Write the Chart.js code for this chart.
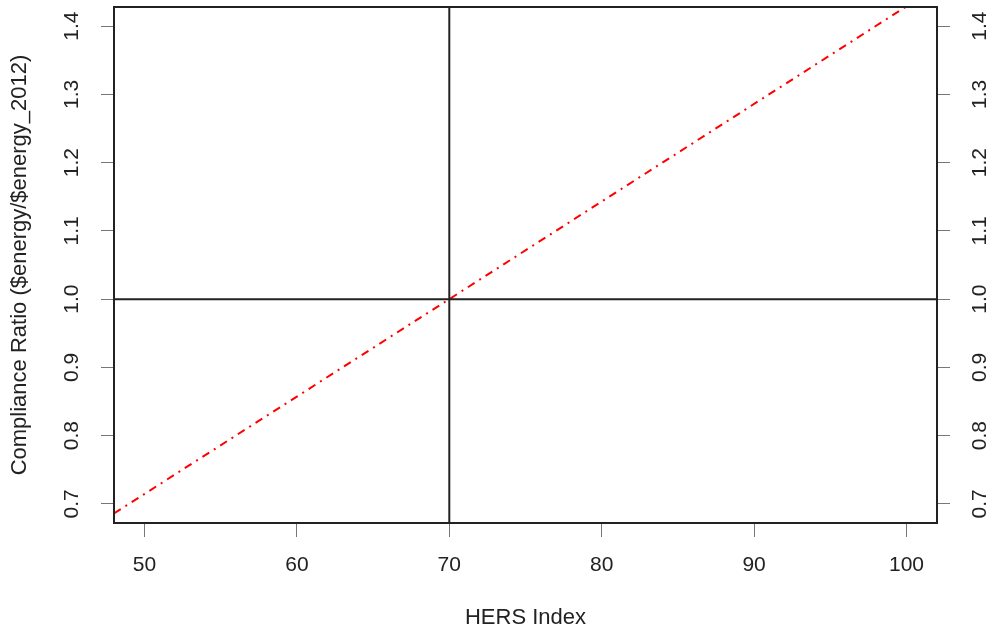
<!DOCTYPE html>
<html>
<head>
<meta charset="utf-8">
<script src="https://cdn.jsdelivr.net/npm/chart.js@4/dist/chart.umd.min.js"></script>
<style>
  html, body { margin: 0; padding: 0; background: #fff; }
  #wrap { width: 997px; height: 634px; }
</style>
</head>
<body>
<div id="wrap"><canvas id="LineChart1" width="997" height="634"></canvas></div>
<script>
// data
const hersIndex = [48, 70, 100];
const complianceRatio = [0.686, 1.0, 1.429];

// reference lines
const refHers = 70;
const refRatio = 1.0;

// axis ranges and ticks
const xRange = [48, 102];
const yRange = [0.672, 1.428];
const xTicks = [50, 60, 70, 80, 90, 100];
const yTicks = [0.7, 0.8, 0.9, 1.0, 1.1, 1.2, 1.3, 1.4];

const FONT = '"Liberation Sans", Arial, Helvetica, sans-serif';
const TEXT = '#222';

// plot box + rotated y tick labels, R style
const boxPlugin = {
    id: 'boxPlugin',
    afterDatasetsDraw(chart) {
        const a = chart.chartArea;
        const ctx = chart.ctx;
        ctx.save();
        ctx.strokeStyle = '#222';
        ctx.lineWidth = 2;
        ctx.strokeRect(a.left, a.top, a.right - a.left, a.bottom - a.top);
        ctx.restore();
    },
    afterDraw(chart) {
        const ctx = chart.ctx;
        ctx.save();
        ctx.fillStyle = TEXT;
        ctx.font = '21px ' + FONT;
        ctx.textAlign = 'center';
        ctx.textBaseline = 'middle';
        [['y', chart.scales.y.left + 72], ['y2', chart.scales.y2.left + 43]].forEach(([id, x]) => {
            const s = chart.scales[id];
            yTicks.forEach(v => {
                const py = s.getPixelForValue(v);
                ctx.save();
                ctx.translate(x, py);
                ctx.rotate(-Math.PI / 2);
                ctx.fillText(v.toFixed(1), 0, 0);
                ctx.restore();
            });
        });
        ctx.restore();
    }
};

const ctx1 = document.getElementById('LineChart1');
const LineChart1 = new Chart(ctx1, {
    type: 'line',
    data: {
        datasets: [{
            data: [{x: refHers, y: yRange[0]}, {x: refHers, y: yRange[1]}],
            borderColor: '#222',
            borderWidth: 2,
            pointRadius: 0
        }, {
            data: [{x: xRange[0], y: refRatio}, {x: xRange[1], y: refRatio}],
            borderColor: '#222',
            borderWidth: 2,
            pointRadius: 0
        }, {
            data: hersIndex.map((h, i) => ({x: h, y: complianceRatio[i]})),
            borderColor: '#ff0000',
            borderWidth: 2,
            borderDash: [8, 5.5, 2, 5.5],
            pointRadius: 0
        }]
    },
    options: {
        responsive: false,
        animation: false,
        layout: { padding: { top: 7, left: 0, right: 0, bottom: 0 } },
        plugins: {
            legend: { display: false },
            tooltip: { enabled: false }
        },
        scales: {
            x: {
                type: 'linear',
                min: xRange[0],
                max: xRange[1],
                afterBuildTicks: s => { s.ticks = xTicks.map(v => ({value: v})); },
                afterFit: s => { s.height = 111; },
                grid: { drawOnChartArea: false, tickLength: 14, color: '#777', lineWidth: 1 },
                border: { display: false },
                ticks: { color: TEXT, font: { family: FONT, size: 21 }, padding: 16, maxRotation: 0 },
                title: {
                    display: true,
                    text: 'HERS Index',
                    color: TEXT,
                    font: { family: FONT, size: 22 },
                    padding: { top: 0, bottom: 3 }
                }
            },
            y: {
                type: 'linear',
                position: 'left',
                min: yRange[0],
                max: yRange[1],
                afterBuildTicks: s => { s.ticks = yTicks.map(v => ({value: v})); },
                afterFit: s => { s.width = 114; },
                grid: { drawOnChartArea: false, tickLength: 13, color: '#777', lineWidth: 1 },
                border: { display: false },
                ticks: { display: false },
                title: {
                    display: true,
                    text: 'Compliance Ratio ($energy/$energy_2012)',
                    color: TEXT,
                    font: { family: FONT, size: 22 },
                    padding: { top: 7, bottom: 0 }
                }
            },
            y2: {
                type: 'linear',
                position: 'right',
                min: yRange[0],
                max: yRange[1],
                afterBuildTicks: s => { s.ticks = yTicks.map(v => ({value: v})); },
                afterFit: s => { s.width = 60; },
                grid: { drawOnChartArea: false, tickLength: 13, color: '#777', lineWidth: 1 },
                border: { display: false },
                ticks: { display: false }
            }
        }
    },
    plugins: [boxPlugin]
});
</script>
</body>
</html>
